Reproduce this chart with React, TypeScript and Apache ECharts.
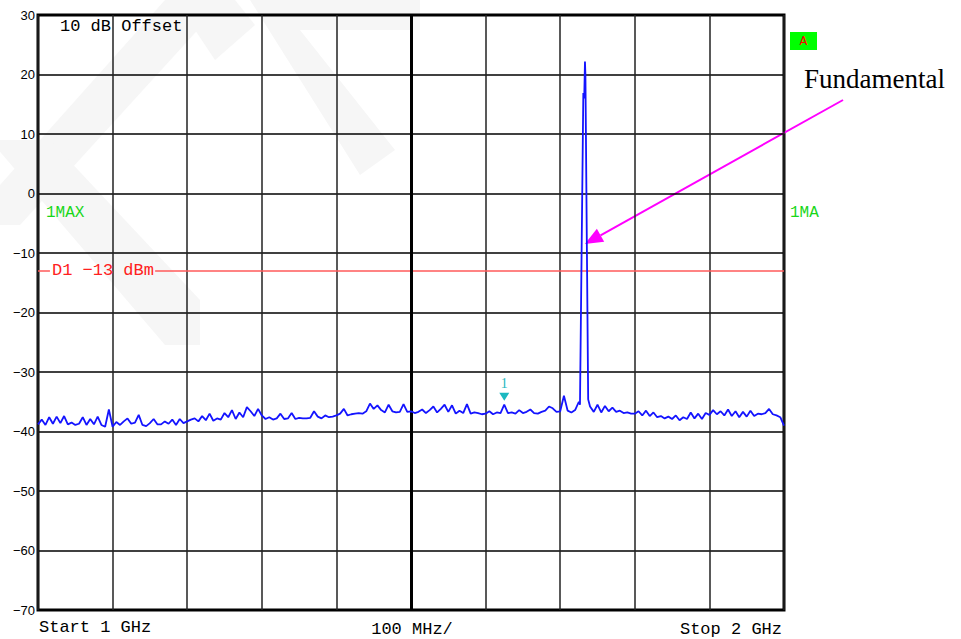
import React, { useEffect, useRef } from "react";
import * as echarts from "echarts";

// Frequency axis (MHz)
const startMHz = 1000;
const stopMHz = 2000;
const stepMHz = 5;
const divMHz = 100;

// Level axis (dBm)
const refLevel = 30;
const bottomLevel = -70;
const dbPerDiv = 10;
const limitLine = -13;

// Noise floor read every 5 MHz, grouped per 100 MHz division
const div1 = [-38.8, -38.0, -38.9, -37.6, -38.7, -37.5, -38.6, -37.4, -38.8, -38.5, -38.9, -38.7, -37.6, -38.9, -37.9, -38.8, -37.5, -38.9, -39.2, -36.3];
const div2 = [-39.2, -38.4, -38.9, -38.3, -37.8, -38.7, -38.5, -37.2, -38.9, -39.1, -38.6, -37.9, -38.8, -38.8, -38.3, -38.7, -38.0, -38.9, -37.9, -38.6];
const div3 = [-38.3, -38.0, -37.8, -38.3, -37.4, -38.1, -37.0, -38.2, -37.8, -38.0, -36.9, -37.6, -36.4, -37.9, -36.8, -37.6, -35.9, -36.6, -37.4, -36.2];
const div4 = [-37.3, -37.9, -37.6, -38.0, -37.8, -37.0, -37.9, -37.8, -36.9, -37.9, -37.7, -37.8, -37.8, -37.7, -36.6, -37.5, -37.8, -37.3, -37.6, -37.5];
const div5 = [-37.3, -37.0, -36.2, -37.3, -37.1, -37.0, -36.9, -37.0, -36.6, -35.3, -36.2, -35.6, -36.4, -36.8, -35.5, -36.6, -36.8, -36.7, -35.4, -36.7];
const div6 = [-36.6, -36.9, -36.7, -36.3, -36.9, -36.4, -35.8, -36.8, -36.2, -35.5, -36.7, -35.6, -37.0, -36.5, -36.9, -35.4, -37.0, -36.8, -36.9, -37.1];
const div7 = [-37.0, -36.6, -37.1, -36.8, -36.9, -35.5, -36.9, -36.8, -37.0, -36.4, -36.9, -36.7, -36.3, -36.9, -37.0, -36.7, -36.5, -35.8, -36.1, -36.7];
const div8 = [-36.6, -34.0, -36.5, -36.8, -36.4, -35.0, -35.5, -35.2, -35.8, -36.7, -35.5, -36.8, -35.7, -36.6, -36.0, -36.7, -36.5, -36.9, -36.8, -37.0];
const div9 = [-37.0, -36.6, -37.3, -36.5, -37.4, -36.8, -37.6, -37.4, -37.8, -37.5, -37.9, -37.3, -38.1, -37.6, -37.9, -36.8, -37.8, -37.0, -37.9, -36.9];
const div10 = [-37.2, -36.4, -37.1, -36.6, -37.3, -36.3, -37.4, -36.6, -37.6, -36.7, -37.5, -36.5, -37.4, -37.0, -37.1, -36.9, -36.2, -37.1, -37.3, -37.6, -39.0];

// Fundamental carrier (MHz, dBm)
const peakFreqs = [1726.5, 1731.0, 1732.2, 1733.2, 1733.8, 1737.5];
const peakLevels = [-35.5, 16.9, 16.0, 22.2, 20.0, -34.6];

// Marker 1
const markerFreq = 1625;
const markerLevel = -35.5;
// Arrow target on the carrier
const arrowTarget = [1733, -8.5];

const noise = [...div1, ...div2, ...div3, ...div4, ...div5, ...div6, ...div7, ...div8, ...div9, ...div10];

const MONO = "'Liberation Mono', 'DejaVu Sans Mono', monospace";
const GREEN = "#19d619";

export default function App() {
  const ref = useRef<HTMLDivElement>(null);
  useEffect(() => {
    if (!ref.current) return;
    const chart = echarts.init(ref.current, undefined, { renderer: "svg" });

    const pts: [number, number][] = [];
    noise.forEach((v, i) => {
      const f = startMHz + i * stepMHz;
      if (f > peakFreqs[0] && f < peakFreqs[peakFreqs.length - 1]) return;
      pts.push([f, v]);
    });
    peakFreqs.forEach((f, i) => pts.push([f, peakLevels[i]]));
    pts.sort((a, b) => a[0] - b[0]);

    const gridLeft = 38, gridTop = 15, gridW = 746, gridH = 595;
    const toPx = (f: number, v: number) => [
      gridLeft + ((f - startMHz) / (stopMHz - startMHz)) * gridW,
      gridTop + ((refLevel - v) / (refLevel - bottomLevel)) * gridH,
    ];
    const tip = toPx(arrowTarget[0], arrowTarget[1]);
    const tail = [843, 100];
    const dx = tip[0] - tail[0], dy = tip[1] - tail[1];
    const len = Math.hypot(dx, dy);
    const ux = dx / len, uy = dy / len;
    const headL = 18, headW = 7.5;
    const bx = tip[0] - ux * headL, by = tip[1] - uy * headL;

    const wm = "#f6f6f6";

    chart.setOption({
      animation: false,
      backgroundColor: "#ffffff",
      grid: {
        left: gridLeft,
        top: gridTop,
        width: gridW,
        height: gridH,
        show: true,
        borderColor: "#000",
        borderWidth: 3,
        backgroundColor: "transparent",
      },
      xAxis: {
        type: "value",
        min: startMHz,
        max: stopMHz,
        interval: divMHz,
        axisLabel: { show: false },
        axisTick: { show: false },
        axisLine: { show: false },
        splitLine: { show: true, lineStyle: { color: "#222", width: 1.5 } },
      },
      yAxis: {
        type: "value",
        min: bottomLevel,
        max: refLevel,
        interval: dbPerDiv,
        axisTick: { show: false },
        axisLine: { show: false },
        axisLabel: {
          color: "#000",
          fontFamily: "'Liberation Sans', Arial, sans-serif",
          fontSize: 13,
          margin: 3,
          verticalAlign: "middle",
          padding: [0, 0, 3, 0],
          formatter: (v: number) => (v < 0 ? "\u2212" + -v : String(v)),
        },
        splitLine: { show: true, lineStyle: { color: "#000", width: 1.5 } },
      },
      graphic: [
        // faint watermark
        { type: "polygon", z: -10, silent: true, shape: { points: [[165, 0], [225, 0], [20, 225], [0, 225], [0, 185]] }, style: { fill: wm } },
        { type: "polygon", z: -10, silent: true, shape: { points: [[-10, 140], [50, 140], [200, 300], [200, 345], [165, 345]] }, style: { fill: wm } },
        { type: "polygon", z: -10, silent: true, shape: { points: [[175, 0], [235, 0], [255, 25], [215, 60]] }, style: { fill: wm } },
        { type: "polygon", z: -10, silent: true, shape: { points: [[250, 0], [420, 0], [420, 30], [300, 30], [395, 150], [360, 175]] }, style: { fill: wm } },
        { type: "text", left: 60, top: 18, style: { text: "10 dB Offset", font: `17px ${MONO}`, fill: "#000" } },
        { type: "text", left: 46, top: 205, style: { text: "1MAX", font: `16px ${MONO}`, fill: GREEN } },
        { type: "text", left: 790, top: 205, style: { text: "1MA", font: `16px ${MONO}`, fill: GREEN } },
        { type: "rect", shape: { x: 790, y: 32, width: 27, height: 18 }, style: { fill: "#00ff00" } },
        { type: "text", x: 803.5, y: 41.5, style: { text: "A", font: `13px ${MONO}`, fill: "#ff0000", align: "center", verticalAlign: "middle" } },
        { type: "text", left: 39, top: 619, style: { text: "Start 1 GHz", font: `17px ${MONO}`, fill: "#000" } },
        { type: "text", x: 412, y: 629, style: { text: "100 MHz/", font: `17px ${MONO}`, fill: "#000", align: "center", verticalAlign: "middle" } },
        { type: "text", x: 782, y: 629, style: { text: "Stop 2 GHz", font: `17px ${MONO}`, fill: "#000", align: "right", verticalAlign: "middle" } },
        { type: "text", left: 804, top: 65, style: { text: "Fundamental", font: "27px 'Liberation Serif', 'Times New Roman', serif", fill: "#000" } },
        { type: "line", shape: { x1: tail[0], y1: tail[1], x2: bx, y2: by }, style: { stroke: "#ff00ff", lineWidth: 2 } },
        {
          type: "polygon",
          shape: { points: [[tip[0], tip[1]], [bx - uy * headW, by + ux * headW], [bx + uy * headW, by - ux * headW]] },
          style: { fill: "#ff00ff" },
        },
      ],
      series: [
        {
          type: "line",
          data: pts,
          showSymbol: false,
          symbol: "none",
          lineStyle: { color: "#1414ff", width: 1.8 },
          z: 5,
          markLine: {
            silent: true,
            symbol: "none",
            lineStyle: { type: "solid" },
            data: [
              [
                { coord: [startMHz, limitLine], lineStyle: { color: "#ff5a5a", width: 1.5, type: "solid" }, label: { show: true, position: "end", distance: 2, formatter: "D1 \u221213 dBm", color: "#ff2020", fontFamily: MONO, fontSize: 17 } },
                { coord: [1016, limitLine] },
              ],
              [
                { coord: [1157, limitLine], lineStyle: { color: "#ff5a5a", width: 1.5, type: "solid" }, label: { show: false } },
                { coord: [stopMHz, limitLine] },
              ],
              [
                { coord: [1500, bottomLevel], lineStyle: { color: "#000", width: 3, type: "solid" }, label: { show: false } },
                { coord: [1500, refLevel] },
              ],
            ],
          },
          markPoint: {
            silent: true,
            data: [
              {
                coord: [markerFreq, markerLevel],
                symbol: "triangle",
                symbolRotate: 180,
                symbolSize: [10, 8],
                symbolOffset: [0, -8],
                itemStyle: { color: "#1cb8c0" },
                label: { show: true, position: "top", distance: 2, formatter: "1", color: "#1cb8c0", fontFamily: "'Liberation Serif', serif", fontSize: 14 },
              },
            ],
          },
        },
      ],
    });
    return () => chart.dispose();
  }, []);
  return <div ref={ref} style={{ position: "absolute", left: 0, top: 0, width: 961, height: 639 }} />;
}
